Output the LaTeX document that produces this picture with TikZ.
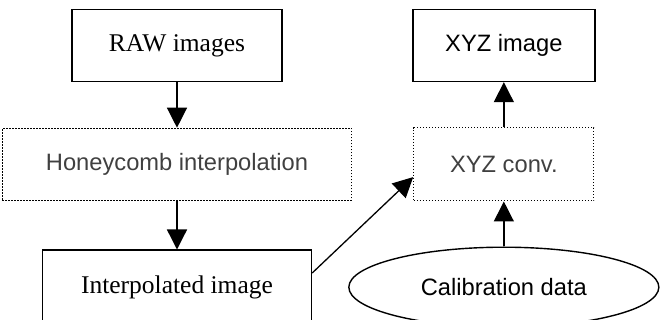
\documentclass[tikz,border=0pt]{standalone}
\usepackage{fontspec}
\setmainfont{Liberation Serif}
\setsansfont{Liberation Sans}
\usetikzlibrary{graphs,shapes.geometric,arrows.meta}
\tikzstyle{box} = [draw, line width=1.4pt, inner sep=0pt, text centered]
\tikzstyle{dotbox} = [draw, dash pattern=on 1.3pt off 1.7pt, line width=1.3pt, inner sep=0pt, text centered, text=black!75, font=\sffamily\fontsize{23.7}{28}\selectfont]
\tikzstyle{oval} = [draw, ellipse, line width=1.4pt, inner sep=0pt, minimum width=310pt, minimum height=80pt, font=\sffamily\fontsize{23.7}{28}\selectfont]
\tikzstyle{serif} = [font=\fontsize{25.5}{30}\selectfont]
\tikzstyle{sans} = [font=\sffamily\fontsize{23.7}{28}\selectfont]

\begin{document}
\begin{tikzpicture}[x=1pt, y=-1pt, >={Triangle[length=20pt, width=20pt]}]
    \useasboundingbox (0,0) rectangle (662,320);
    \clip (0,0) rectangle (662,320);
    \matrix[row sep=45pt, column sep=-4pt, matrix anchor=11.center] at (177,45.5) {
        \node[box, serif, minimum width=210pt, minimum height=72pt](11){RAW images}; & \node[box, sans, minimum width=182pt, minimum height=72pt](12){XYZ image}; \\
        \node[dotbox, minimum width=349pt, minimum height=72pt](21){Honeycomb interpolation}; & \node[dotbox, minimum width=180pt, minimum height=73pt](22){XYZ conv.}; \\
        \node[box, serif, minimum width=269pt, minimum height=74pt](31){Interpolated image}; & \node[oval](32){Calibration data}; \\
    };

    \graph {
        (11) ->[line width=1.3pt] (21);
        (21) ->[line width=1.3pt] (31);
        (22) ->[line width=1.3pt] (12);
        (32) ->[line width=1.3pt] (22);
        (31) ->[line width=1.3pt, to path={(\tikztostart.6) -- (\tikztotarget.188)}] (22);
    };
\end{tikzpicture}
\end{document}
